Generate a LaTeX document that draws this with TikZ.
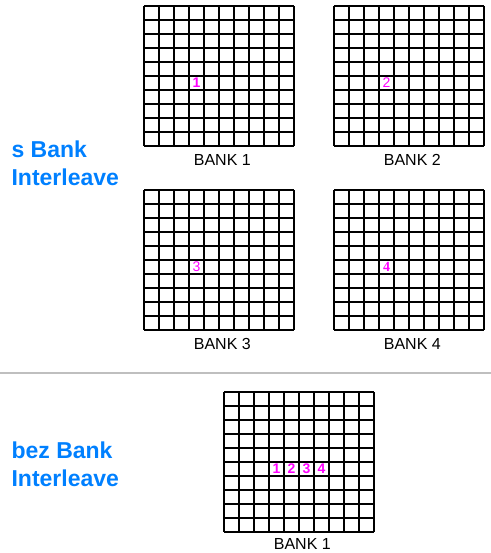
\documentclass[tikz,border=0pt]{standalone}
\usepackage{fontspec}
\setmainfont{Liberation Sans}
\newfontfamily\numserif{Liberation Serif}
\usetikzlibrary{positioning}

\definecolor{titleblue}{RGB}{0,128,255}
\definecolor{numpink}{RGB}{255,0,255}
\definecolor{rulegray}{RGB}{191,191,191}

\tikzset{
  banklabel/.style={font=\fontsize{12pt}{14pt}\selectfont, inner sep=0pt, xshift=2.5pt},
  cellnum/.style={font=\fontsize{10.5pt}{12pt}\selectfont\bfseries, text=numpink, inner sep=0pt},
  cellnumthin/.style={cellnum, font=\fontsize{10.5pt}{12pt}\selectfont\mdseries},
  cellnumserif/.style={cellnum, font=\fontsize{10.5pt}{12pt}\selectfont\numserif\bfseries},
  title/.style={font=\fontsize{17.25pt}{21pt}\selectfont\bfseries, text=titleblue, align=left, inner sep=0pt, anchor=base west}
}

% 10 x 10 bank, cells 15 x 14 px
\newcommand{\bankgrid}[3]{%
  \foreach \i in {0,...,10} {
    \draw (#2+15*\i, #3) -- (#2+15*\i, #3+140);
    \draw (#2, #3+14*\i) -- (#2+150, #3+14*\i);
  }
  \coordinate (#1) at (#2+75, #3+140);
}

\begin{document}
\begin{tikzpicture}[x=0.75pt, y=-0.75pt, line width=0.85pt]
    \useasboundingbox (0,0) rectangle (491,553);

    % with bank interleave
    \node[title] (withtitle) at (11,185) {s Bank\\Interleave};

    \bankgrid{bankA}{144}{6}
    \bankgrid{bankB}{334}{6}
    \bankgrid{bankC}{144}{190}
    \bankgrid{bankD}{334}{190}

    \node[banklabel, below=6pt of bankA] (labA) {BANK 1};
    \node[banklabel, below=6pt of bankB] (labB) {BANK 2};
    \node[banklabel, below=6pt of bankC] (labC) {BANK 3};
    \node[banklabel, below=6pt of bankD] (labD) {BANK 4};

    \node[cellnum] (numA) at (144+52.5, 6+77) {1};
    \node[cellnumthin] (numB) at (334+52.5, 6+77) {2};
    \node[cellnumthin] (numC) at (144+52.5, 190+77) {3};
    \node[cellnumserif] (numD) at (334+52.5, 190+77) {4};

    % separator
    \draw[rulegray, line width=1.9pt] (0,373) -- (491,373);

    % without bank interleave
    \node[title] (withouttitle) at (11,486) {bez Bank\\Interleave};

    \bankgrid{bankE}{224}{392}
    \node[banklabel, below=4.5pt of bankE] (labE) {BANK 1};

    \foreach \k in {1,...,4}
      \node[cellnum] (numE\k) at (224+37.5+15*\k, 392+77) {\k};
\end{tikzpicture}
\end{document}
